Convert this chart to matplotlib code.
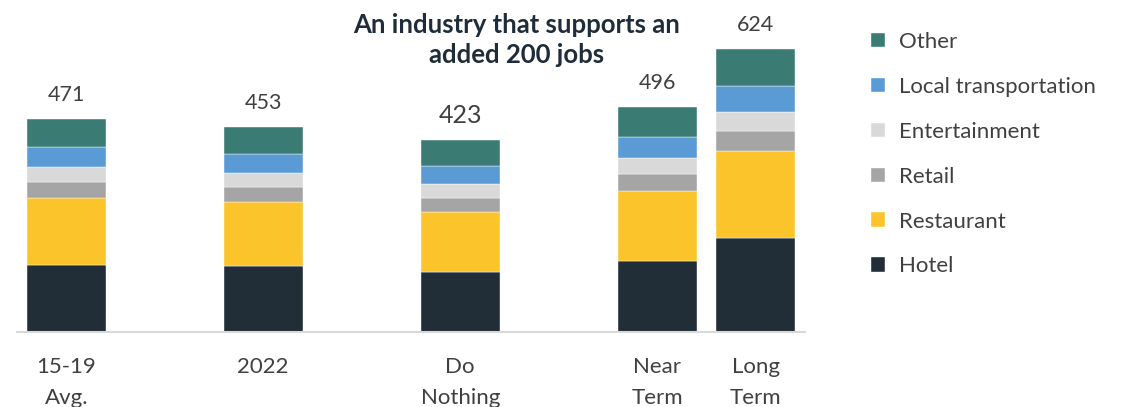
import numpy as np
import matplotlib.pyplot as plt

plt.rcParams['font.family'] = ['Lato', 'DejaVu Sans']

# Datos
categories = ['15-19\nAvg.', '2022', 'Do\nNothing', 'Near\nTerm', 'Long\nTerm']
positions = [0, 2, 4, 6, 7]
segments = ['Hotel', 'Restaurant', 'Retail', 'Entertainment', 'Local transportation', 'Other']
hotel = [149, 146, 132, 158, 208]
restaurant = [147, 141, 133, 154, 191]
retail = [35, 34, 32, 37, 44]
entertainment = [34, 31, 31, 35, 43]
local_transport = [43, 42, 39, 46, 58]
other = [63, 59, 56, 66, 80]
totals = [471, 453, 423, 496, 624]

colors = ['#212d37', '#fbc42a', '#a5a5a5', '#d9d9d9', '#5b9bd5', '#3a7b73']
series = [hotel, restaurant, retail, entertainment, local_transport, other]

fig = plt.figure(figsize=(11.27, 4.07), dpi=100)
ax = fig.add_axes([17 / 1127, 74.7 / 407, 788 / 1127, 317.5 / 407])

bottom = np.zeros(len(positions))
handles = []
for vals, col, name in zip(series, colors, segments):
    h = ax.bar(positions, vals, width=0.8, bottom=bottom, color=col, label=name,
               edgecolor='white', linewidth=0.3)
    handles.append(h)
    bottom += np.array(vals)

# Etiquetas de totales
for i, (x, t) in enumerate(zip(positions, totals)):
    size = 18 if i == 2 else 15.5
    ax.annotate(str(t), (x, t), xytext=(0, 10), textcoords='offset points',
                ha='center', va='bottom', fontsize=size, color='#404040')

ax.set_xlim(-0.5, 7.5)
ax.set_ylim(0, 700)
ax.set_xticks(positions)
ax.set_xticklabels(categories, fontsize=16, color='#404040', linespacing=1.65)
ax.tick_params(axis='x', length=0, pad=18)
ax.set_yticks([])
for s in ['top', 'right', 'left']:
    ax.spines[s].set_visible(False)
ax.spines['bottom'].set_color('#d9d9d9')
ax.spines['bottom'].set_linewidth(1.5)

fig.text(517 / 1127, 1 - 40 / 407, 'An industry that supports an\nadded 200 jobs',
         ha='center', va='center', fontsize=18.5, fontweight='bold', color='#1f2d3a',
         linespacing=1.3)

leg = fig.legend(handles[::-1], segments[::-1], loc='upper left',
                 bbox_to_anchor=(851 / 1127, 1 - 12 / 407), frameon=False,
                 fontsize=16, labelcolor='#404040', handlelength=0.63, handleheight=0.63,
                 handletextpad=0.62, labelspacing=1.12)

fig.savefig('out.png', dpi=100)
